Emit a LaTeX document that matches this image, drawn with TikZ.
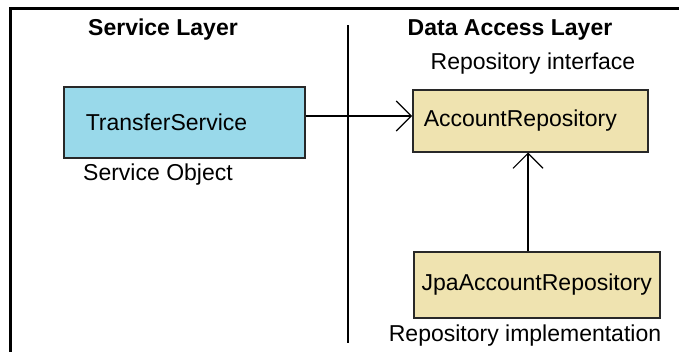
\documentclass[tikz,border=0pt]{standalone}
\usepackage{fontspec}
\setmainfont{Liberation Sans}
\usetikzlibrary{arrows.meta}
\definecolor{svcblue}{RGB}{153,217,234}
\definecolor{repotan}{RGB}{239,227,176}
\definecolor{edgegray}{RGB}{40,40,40}
\begin{document}
\begin{tikzpicture}[x=1pt,y=-1pt,
  lbl/.style={font=\fontsize{23}{27}\selectfont, inner sep=0pt, anchor=center},
  hdr/.style={font=\fontsize{23}{27}\selectfont\bfseries, inner sep=0pt, anchor=center},
  box/.style={draw=edgegray, line width=1.5pt, font=\fontsize{23}{27}\selectfont, inner ysep=0pt, anchor=north west},
  conn/.style={line width=1.3pt, -{Straight Barb[length=15pt,width=30pt,line width=1.1pt]}}
]
\useasboundingbox (0,0) rectangle (679,351);
% frame
\draw[line width=2.6pt] (10.5,352) -- (10.5,8.5) -- (680,8.5);
% headers
\node[hdr] (sl) at (163,30) {Service Layer};
\node[hdr] (dal) at (510,30) {Data Access Layer};
% divider
\coordinate (dtop) at (348,25);
\coordinate (dbot) at (348,343);
\draw[line width=1.3pt] (dtop) -- (dbot);
% boxes
\node[box, fill=svcblue, minimum height=71pt, text width=197pt, inner xsep=22pt, align=left] (ts) at (63,86) {TransferService};
\node[box, fill=repotan, minimum height=62pt, text width=213pt, inner xsep=11pt, align=left] (ar) at (412,89) {AccountRepository};
\node[box, fill=repotan, minimum height=66pt, text width=246pt, inner xsep=0pt, align=center] (jpa) at (413,251) {JpaAccountRepository};
% labels
\node[lbl, anchor=west] (so) at (83,175) {Service Object};
\node[lbl] (ri) at (533,64) {Repository interface};
\node[lbl] (rimpl) at (525,336) {Repository implementation};
% connectors
\draw[conn] (ts.east |- 0,116) -- (ar.west |- 0,116);
\draw[conn] (jpa.north -| 528,0) -- (ar.south -| 528,0);
\end{tikzpicture}
\end{document}
